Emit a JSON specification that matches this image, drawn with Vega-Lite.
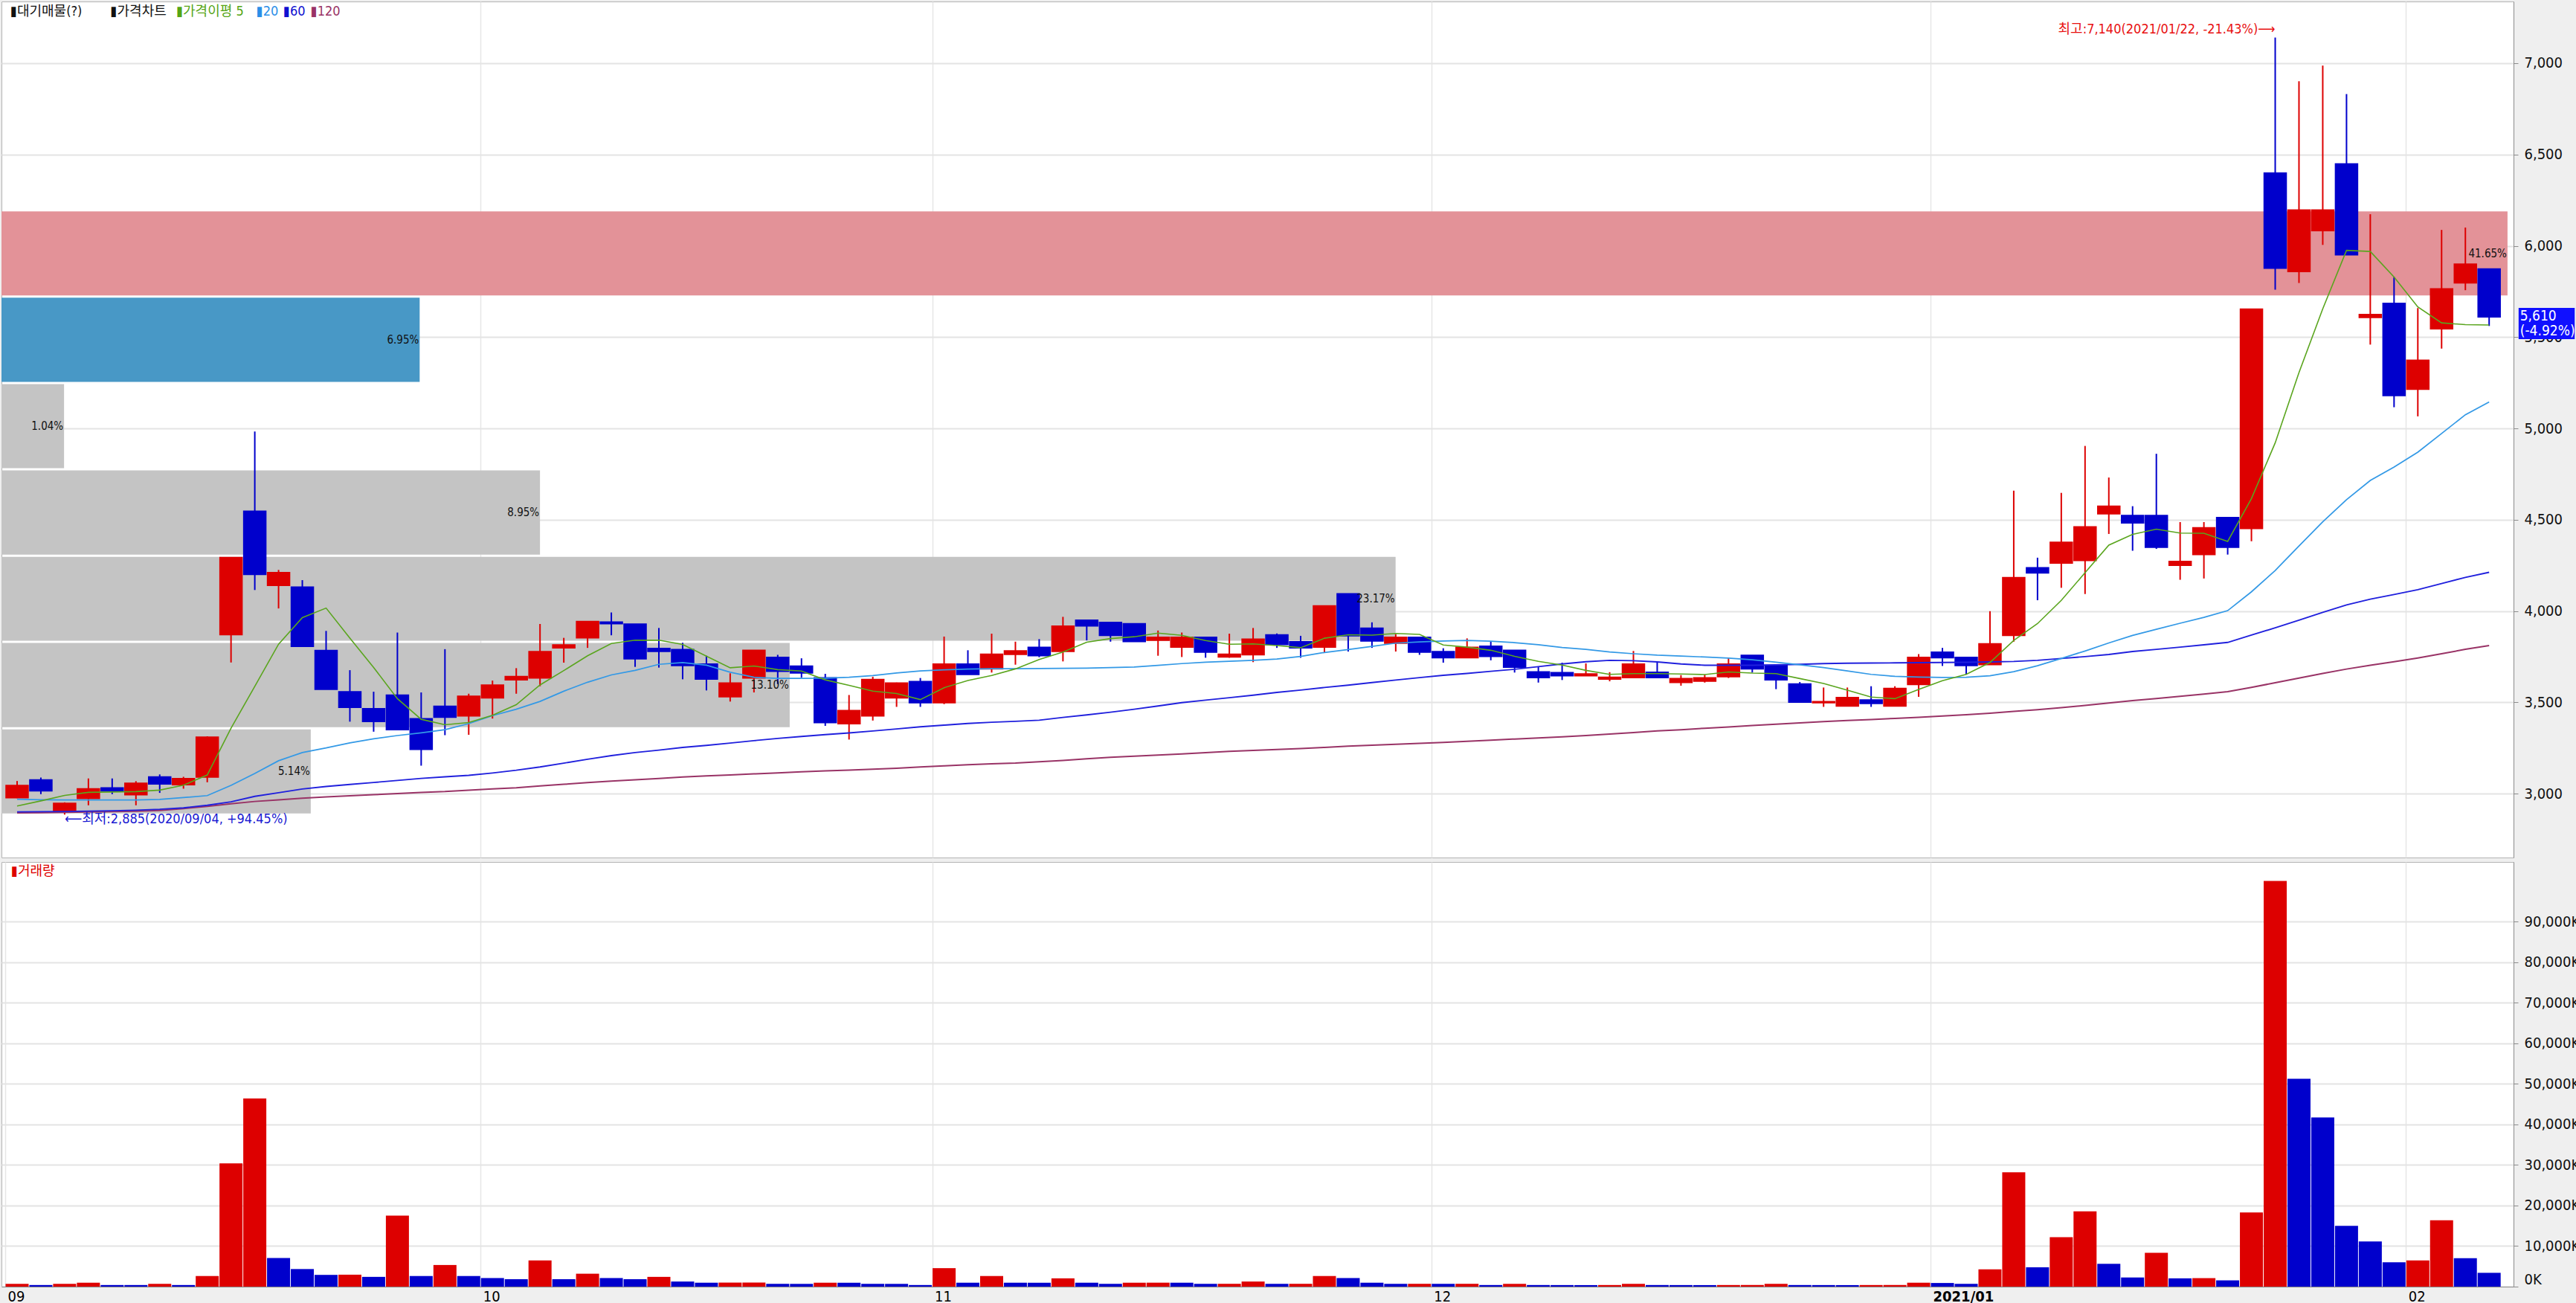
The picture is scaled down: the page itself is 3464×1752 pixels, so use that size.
{
"$schema":"https://vega.github.io/schema/vega-lite/v6.json",
"background":"#efefef",
"padding":{"left":1,"top":1,"right":0,"bottom":0},
"spacing":4,
"config":{"view":{"stroke":"#b4b4b4","strokeWidth":1,"fill":"white"},"font":"Liberation Sans Narrow, DejaVu Sans Condensed, Noto Sans CJK KR, DejaVu Sans, sans-serif"},
"datasets":{
"vp":[
{"lo":2885,"hi":3358,"pct":0.0514,"k":"g"},
{"lo":3358,"hi":3831,"pct":0.1310,"k":"g"},
{"lo":3831,"hi":4303,"pct":0.2317,"k":"g"},
{"lo":4303,"hi":4776,"pct":0.0895,"k":"g"},
{"lo":4776,"hi":5249,"pct":0.0104,"k":"g"},
{"lo":5249,"hi":5722,"pct":0.0695,"k":"cur"},
{"lo":5722,"hi":6195,"pct":0.4165,"k":"max"}
],
"p":[
{"i":0,"d":"2020-09-02","o":2977,"h":3069,"l":2975,"c":3045,"v":690,"vc":"u","m5":2932,"m20":2969,"m60":2900,"m120":2894},
{"i":1,"d":"2020-09-03","o":3076,"h":3088,"l":2997,"c":3015,"v":400,"vc":"d","m5":2960,"m20":2966,"m60":2901,"m120":2895},
{"i":2,"d":"2020-09-04","o":2902,"h":2952,"l":2885,"c":2947,"v":690,"vc":"u","m5":2990,"m20":2965,"m60":2902,"m120":2897},
{"i":3,"d":"2020-09-07","o":2973,"h":3083,"l":2936,"c":3027,"v":970,"vc":"u","m5":3007,"m20":2965,"m60":2904,"m120":2899},
{"i":4,"d":"2020-09-08","o":3032,"h":3083,"l":2997,"c":3015,"v":400,"vc":"d","m5":3009,"m20":2965,"m60":2906,"m120":2901},
{"i":5,"d":"2020-09-09","o":2993,"h":3068,"l":2936,"c":3057,"v":400,"vc":"d","m5":3011,"m20":2965,"m60":2909,"m120":2904},
{"i":6,"d":"2020-09-10","o":3092,"h":3105,"l":3004,"c":3052,"v":690,"vc":"u","m5":3019,"m20":2968,"m60":2914,"m120":2908},
{"i":7,"d":"2020-09-11","o":3048,"h":3092,"l":3027,"c":3083,"v":400,"vc":"d","m5":3046,"m20":2978,"m60":2922,"m120":2918},
{"i":8,"d":"2020-09-14","o":3090,"h":3314,"l":3062,"c":3310,"v":2620,"vc":"u","m5":3102,"m20":2989,"m60":2936,"m120":2930},
{"i":9,"d":"2020-09-15","o":3870,"h":4293,"l":3718,"c":4293,"v":30400,"vc":"u","m5":3358,"m20":3045,"m60":2955,"m120":2944},
{"i":10,"d":"2020-09-16","o":4547,"h":4983,"l":4115,"c":4200,"v":46400,"vc":"u","m5":3587,"m20":3110,"m60":2985,"m120":2957},
{"i":11,"d":"2020-09-17","o":4140,"h":4225,"l":4014,"c":4211,"v":7060,"vc":"d","m5":3818,"m20":3180,"m60":3005,"m120":2966},
{"i":12,"d":"2020-09-18","o":4132,"h":4169,"l":3806,"c":3806,"v":4340,"vc":"d","m5":3964,"m20":3225,"m60":3025,"m120":2975},
{"i":13,"d":"2020-09-21","o":3784,"h":3891,"l":3571,"c":3571,"v":2900,"vc":"d","m5":4016,"m20":3250,"m60":3039,"m120":2982},
{"i":14,"d":"2020-09-22","o":3558,"h":3676,"l":3394,"c":3472,"v":2950,"vc":"u","m5":3852,"m20":3278,"m60":3050,"m120":2988},
{"i":15,"d":"2020-09-23","o":3466,"h":3558,"l":3339,"c":3394,"v":2410,"vc":"d","m5":3691,"m20":3300,"m60":3061,"m120":2994},
{"i":16,"d":"2020-09-24","o":3540,"h":3882,"l":3350,"c":3350,"v":17500,"vc":"u","m5":3520,"m20":3318,"m60":3072,"m120":3000},
{"i":17,"d":"2020-09-25","o":3411,"h":3554,"l":3153,"c":3242,"v":2620,"vc":"d","m5":3407,"m20":3333,"m60":3083,"m120":3006},
{"i":18,"d":"2020-09-28","o":3479,"h":3791,"l":3320,"c":3418,"v":5340,"vc":"u","m5":3377,"m20":3350,"m60":3092,"m120":3011},
{"i":19,"d":"2020-09-29","o":3425,"h":3547,"l":3322,"c":3534,"v":2620,"vc":"d","m5":3389,"m20":3383,"m60":3100,"m120":3019},
{"i":20,"d":"2020-10-05","o":3524,"h":3619,"l":3411,"c":3595,"v":2120,"vc":"d","m5":3429,"m20":3427,"m60":3113,"m120":3026},
{"i":21,"d":"2020-10-06","o":3622,"h":3687,"l":3547,"c":3642,"v":1830,"vc":"d","m5":3487,"m20":3462,"m60":3128,"m120":3032},
{"i":22,"d":"2020-10-07","o":3633,"h":3929,"l":3588,"c":3778,"v":6490,"vc":"u","m5":3595,"m20":3505,"m60":3146,"m120":3042},
{"i":23,"d":"2020-10-08","o":3798,"h":3853,"l":3717,"c":3815,"v":1830,"vc":"d","m5":3674,"m20":3561,"m60":3167,"m120":3051},
{"i":24,"d":"2020-10-12","o":3853,"h":3943,"l":3798,"c":3943,"v":3190,"vc":"u","m5":3755,"m20":3610,"m60":3188,"m120":3060},
{"i":25,"d":"2020-10-13","o":3940,"h":3992,"l":3867,"c":3930,"v":2120,"vc":"d","m5":3822,"m20":3650,"m60":3208,"m120":3068},
{"i":26,"d":"2020-10-14","o":3929,"h":3929,"l":3694,"c":3737,"v":1830,"vc":"d","m5":3840,"m20":3675,"m60":3225,"m120":3076},
{"i":27,"d":"2020-10-15","o":3796,"h":3907,"l":3690,"c":3778,"v":2410,"vc":"u","m5":3840,"m20":3708,"m60":3238,"m120":3083},
{"i":28,"d":"2020-10-16","o":3789,"h":3826,"l":3626,"c":3701,"v":1260,"vc":"d","m5":3817,"m20":3718,"m60":3253,"m120":3091},
{"i":29,"d":"2020-10-19","o":3710,"h":3755,"l":3565,"c":3626,"v":970,"vc":"d","m5":3753,"m20":3703,"m60":3264,"m120":3097},
{"i":30,"d":"2020-10-20","o":3530,"h":3659,"l":3504,"c":3606,"v":1000,"vc":"u","m5":3689,"m20":3665,"m60":3277,"m120":3102},
{"i":31,"d":"2020-10-21","o":3633,"h":3785,"l":3554,"c":3785,"v":1010,"vc":"u","m5":3699,"m20":3637,"m60":3290,"m120":3108},
{"i":32,"d":"2020-10-22","o":3747,"h":3760,"l":3600,"c":3669,"v":690,"vc":"d","m5":3679,"m20":3631,"m60":3302,"m120":3113},
{"i":33,"d":"2020-10-23","o":3699,"h":3741,"l":3635,"c":3660,"v":680,"vc":"d","m5":3671,"m20":3631,"m60":3313,"m120":3119},
{"i":34,"d":"2020-10-26","o":3635,"h":3656,"l":3371,"c":3388,"v":970,"vc":"u","m5":3623,"m20":3632,"m60":3323,"m120":3124},
{"i":35,"d":"2020-10-27","o":3382,"h":3540,"l":3296,"c":3455,"v":960,"vc":"d","m5":3593,"m20":3637,"m60":3332,"m120":3129},
{"i":36,"d":"2020-10-28","o":3425,"h":3640,"l":3400,"c":3625,"v":690,"vc":"d","m5":3561,"m20":3646,"m60":3343,"m120":3134},
{"i":37,"d":"2020-10-29","o":3524,"h":3608,"l":3475,"c":3606,"v":680,"vc":"d","m5":3548,"m20":3661,"m60":3354,"m120":3139},
{"i":38,"d":"2020-10-30","o":3614,"h":3633,"l":3475,"c":3497,"v":400,"vc":"d","m5":3515,"m20":3672,"m60":3366,"m120":3146},
{"i":39,"d":"2020-11-02","o":3497,"h":3860,"l":3490,"c":3710,"v":4560,"vc":"u","m5":3580,"m20":3678,"m60":3375,"m120":3152},
{"i":40,"d":"2020-11-03","o":3710,"h":3785,"l":3652,"c":3652,"v":970,"vc":"d","m5":3619,"m20":3682,"m60":3384,"m120":3158},
{"i":41,"d":"2020-11-04","o":3683,"h":3876,"l":3663,"c":3764,"v":2620,"vc":"u","m5":3647,"m20":3684,"m60":3391,"m120":3163},
{"i":42,"d":"2020-11-05","o":3762,"h":3832,"l":3706,"c":3782,"v":970,"vc":"d","m5":3683,"m20":3684,"m60":3396,"m120":3167},
{"i":43,"d":"2020-11-06","o":3802,"h":3846,"l":3747,"c":3755,"v":960,"vc":"d","m5":3734,"m20":3685,"m60":3402,"m120":3174},
{"i":44,"d":"2020-11-09","o":3778,"h":3968,"l":3724,"c":3918,"v":2050,"vc":"u","m5":3775,"m20":3686,"m60":3417,"m120":3182},
{"i":45,"d":"2020-11-10","o":3950,"h":3950,"l":3839,"c":3918,"v":970,"vc":"d","m5":3829,"m20":3687,"m60":3431,"m120":3191},
{"i":46,"d":"2020-11-11","o":3938,"h":3938,"l":3832,"c":3866,"v":690,"vc":"d","m5":3849,"m20":3690,"m60":3446,"m120":3199},
{"i":47,"d":"2020-11-12","o":3931,"h":3931,"l":3832,"c":3832,"v":970,"vc":"u","m5":3859,"m20":3693,"m60":3462,"m120":3205},
{"i":48,"d":"2020-11-13","o":3839,"h":3893,"l":3755,"c":3857,"v":980,"vc":"u","m5":3879,"m20":3702,"m60":3480,"m120":3211},
{"i":49,"d":"2020-11-16","o":3802,"h":3882,"l":3748,"c":3857,"v":970,"vc":"d","m5":3867,"m20":3712,"m60":3498,"m120":3217},
{"i":50,"d":"2020-11-17","o":3857,"h":3857,"l":3744,"c":3774,"v":690,"vc":"d","m5":3838,"m20":3720,"m60":3512,"m120":3224},
{"i":51,"d":"2020-11-18","o":3748,"h":3876,"l":3744,"c":3764,"v":700,"vc":"u","m5":3818,"m20":3725,"m60":3525,"m120":3231},
{"i":52,"d":"2020-11-19","o":3760,"h":3907,"l":3720,"c":3846,"v":1260,"vc":"u","m5":3820,"m20":3730,"m60":3539,"m120":3237},
{"i":53,"d":"2020-11-20","o":3870,"h":3877,"l":3798,"c":3816,"v":690,"vc":"d","m5":3811,"m20":3737,"m60":3554,"m120":3242},
{"i":54,"d":"2020-11-23","o":3832,"h":3864,"l":3744,"c":3798,"v":700,"vc":"u","m5":3799,"m20":3751,"m60":3567,"m120":3247},
{"i":55,"d":"2020-11-24","o":3802,"h":4029,"l":3774,"c":4029,"v":2620,"vc":"u","m5":3851,"m20":3773,"m60":3581,"m120":3253},
{"i":56,"d":"2020-11-25","o":4095,"h":4095,"l":3778,"c":3864,"v":2120,"vc":"d","m5":3870,"m20":3789,"m60":3594,"m120":3260},
{"i":57,"d":"2020-11-26","o":3907,"h":3938,"l":3798,"c":3835,"v":970,"vc":"d","m5":3868,"m20":3806,"m60":3608,"m120":3265},
{"i":58,"d":"2020-11-27","o":3823,"h":3873,"l":3778,"c":3857,"v":690,"vc":"d","m5":3877,"m20":3824,"m60":3622,"m120":3270},
{"i":59,"d":"2020-11-30","o":3857,"h":3857,"l":3760,"c":3774,"v":700,"vc":"u","m5":3872,"m20":3831,"m60":3635,"m120":3275},
{"i":60,"d":"2020-12-01","o":3778,"h":3796,"l":3717,"c":3744,"v":690,"vc":"d","m5":3814,"m20":3836,"m60":3648,"m120":3280},
{"i":61,"d":"2020-12-02","o":3744,"h":3850,"l":3744,"c":3802,"v":700,"vc":"u","m5":3802,"m20":3839,"m60":3658,"m120":3286},
{"i":62,"d":"2020-12-03","o":3808,"h":3832,"l":3730,"c":3751,"v":400,"vc":"d","m5":3785,"m20":3835,"m60":3670,"m120":3293},
{"i":63,"d":"2020-12-04","o":3785,"h":3785,"l":3663,"c":3692,"v":690,"vc":"u","m5":3752,"m20":3827,"m60":3681,"m120":3299},
{"i":64,"d":"2020-12-07","o":3667,"h":3697,"l":3608,"c":3635,"v":400,"vc":"d","m5":3724,"m20":3815,"m60":3695,"m120":3305},
{"i":65,"d":"2020-12-08","o":3663,"h":3717,"l":3622,"c":3645,"v":390,"vc":"d","m5":3704,"m20":3800,"m60":3710,"m120":3311},
{"i":66,"d":"2020-12-09","o":3645,"h":3713,"l":3645,"c":3656,"v":380,"vc":"d","m5":3675,"m20":3790,"m60":3722,"m120":3318},
{"i":67,"d":"2020-12-10","o":3626,"h":3665,"l":3615,"c":3638,"v":400,"vc":"u","m5":3653,"m20":3776,"m60":3730,"m120":3326},
{"i":68,"d":"2020-12-11","o":3635,"h":3781,"l":3635,"c":3710,"v":690,"vc":"u","m5":3657,"m20":3766,"m60":3728,"m120":3334},
{"i":69,"d":"2020-12-14","o":3665,"h":3720,"l":3635,"c":3635,"v":400,"vc":"d","m5":3657,"m20":3758,"m60":3721,"m120":3343},
{"i":70,"d":"2020-12-15","o":3608,"h":3649,"l":3591,"c":3631,"v":390,"vc":"d","m5":3655,"m20":3753,"m60":3710,"m120":3350},
{"i":71,"d":"2020-12-16","o":3615,"h":3652,"l":3608,"c":3635,"v":380,"vc":"d","m5":3652,"m20":3748,"m60":3703,"m120":3358},
{"i":72,"d":"2020-12-17","o":3640,"h":3741,"l":3633,"c":3710,"v":400,"vc":"u","m5":3666,"m20":3742,"m60":3703,"m120":3365},
{"i":73,"d":"2020-12-18","o":3758,"h":3758,"l":3663,"c":3683,"v":410,"vc":"u","m5":3660,"m20":3733,"m60":3703,"m120":3373},
{"i":74,"d":"2020-12-21","o":3703,"h":3703,"l":3572,"c":3622,"v":690,"vc":"u","m5":3657,"m20":3720,"m60":3705,"m120":3380},
{"i":75,"d":"2020-12-22","o":3601,"h":3611,"l":3500,"c":3500,"v":400,"vc":"d","m5":3630,"m20":3705,"m60":3708,"m120":3387},
{"i":76,"d":"2020-12-23","o":3497,"h":3581,"l":3475,"c":3504,"v":390,"vc":"d","m5":3603,"m20":3690,"m60":3712,"m120":3394},
{"i":77,"d":"2020-12-24","o":3479,"h":3581,"l":3479,"c":3527,"v":380,"vc":"d","m5":3566,"m20":3672,"m60":3714,"m120":3400},
{"i":78,"d":"2020-12-28","o":3513,"h":3588,"l":3475,"c":3493,"v":400,"vc":"u","m5":3529,"m20":3653,"m60":3715,"m120":3406},
{"i":79,"d":"2020-12-29","o":3479,"h":3588,"l":3479,"c":3577,"v":410,"vc":"u","m5":3520,"m20":3642,"m60":3716,"m120":3412},
{"i":80,"d":"2020-12-30","o":3597,"h":3764,"l":3530,"c":3747,"v":970,"vc":"u","m5":3570,"m20":3638,"m60":3717,"m120":3418},
{"i":81,"d":"2021-01-04","o":3775,"h":3798,"l":3699,"c":3744,"v":900,"vc":"d","m5":3618,"m20":3636,"m60":3718,"m120":3425},
{"i":82,"d":"2021-01-05","o":3747,"h":3747,"l":3652,"c":3701,"v":690,"vc":"d","m5":3653,"m20":3637,"m60":3719,"m120":3432},
{"i":83,"d":"2021-01-06","o":3706,"h":3999,"l":3706,"c":3821,"v":4270,"vc":"u","m5":3718,"m20":3645,"m60":3721,"m120":3440},
{"i":84,"d":"2021-01-07","o":3866,"h":4659,"l":3832,"c":4183,"v":28190,"vc":"u","m5":3839,"m20":3668,"m60":3724,"m120":3450},
{"i":85,"d":"2021-01-08","o":4237,"h":4292,"l":4059,"c":4208,"v":4770,"vc":"d","m5":3931,"m20":3700,"m60":3730,"m120":3460},
{"i":86,"d":"2021-01-11","o":4262,"h":4647,"l":4127,"c":4377,"v":12220,"vc":"u","m5":4058,"m20":3740,"m60":3740,"m120":3471},
{"i":87,"d":"2021-01-12","o":4276,"h":4904,"l":4093,"c":4461,"v":18590,"vc":"u","m5":4210,"m20":3781,"m60":3750,"m120":3483},
{"i":88,"d":"2021-01-13","o":4532,"h":4731,"l":4422,"c":4574,"v":5630,"vc":"d","m5":4361,"m20":3825,"m60":3762,"m120":3496},
{"i":89,"d":"2021-01-14","o":4524,"h":4574,"l":4330,"c":4482,"v":2260,"vc":"d","m5":4420,"m20":3866,"m60":3778,"m120":3509},
{"i":90,"d":"2021-01-15","o":4524,"h":4861,"l":4340,"c":4348,"v":8350,"vc":"u","m5":4448,"m20":3900,"m60":3790,"m120":3521},
{"i":91,"d":"2021-01-18","o":4250,"h":4487,"l":4171,"c":4272,"v":2050,"vc":"d","m5":4427,"m20":3933,"m60":3802,"m120":3533},
{"i":92,"d":"2021-01-19","o":4309,"h":4487,"l":4178,"c":4456,"v":2100,"vc":"u","m5":4426,"m20":3965,"m60":3815,"m120":3545},
{"i":93,"d":"2021-01-20","o":4512,"h":4512,"l":4309,"c":4348,"v":1550,"vc":"d","m5":4381,"m20":4002,"m60":3828,"m120":3558},
{"i":94,"d":"2021-01-21","o":4451,"h":5654,"l":4382,"c":5654,"v":18300,"vc":"u","m5":4616,"m20":4105,"m60":3868,"m120":3582},
{"i":95,"d":"2021-01-22","o":6399,"h":7140,"l":5760,"c":5877,"v":100110,"vc":"u","m5":4921,"m20":4222,"m60":3908,"m120":3607},
{"i":96,"d":"2021-01-25","o":5858,"h":6901,"l":5796,"c":6197,"v":51270,"vc":"d","m5":5306,"m20":4356,"m60":3950,"m120":3633},
{"i":97,"d":"2021-01-26","o":6083,"h":6987,"l":6005,"c":6197,"v":41740,"vc":"d","m5":5655,"m20":4488,"m60":3993,"m120":3658},
{"i":98,"d":"2021-01-27","o":6449,"h":6831,"l":5950,"c":5950,"v":15010,"vc":"d","m5":5975,"m20":4610,"m60":4033,"m120":3682},
{"i":99,"d":"2021-01-28","o":5607,"h":6173,"l":5459,"c":5624,"v":11150,"vc":"d","m5":5969,"m20":4715,"m60":4065,"m120":3703},
{"i":100,"d":"2021-01-29","o":5685,"h":5830,"l":5116,"c":5179,"v":5990,"vc":"d","m5":5829,"m20":4788,"m60":4090,"m120":3722},
{"i":101,"d":"2021-02-01","o":5214,"h":5659,"l":5066,"c":5374,"v":6490,"vc":"u","m5":5665,"m20":4870,"m60":4117,"m120":3743},
{"i":102,"d":"2021-02-02","o":5545,"h":6087,"l":5437,"c":5765,"v":16380,"vc":"u","m5":5578,"m20":4972,"m60":4150,"m120":3766},
{"i":103,"d":"2021-02-03","o":5796,"h":6100,"l":5757,"c":5900,"v":7030,"vc":"d","m5":5568,"m20":5075,"m60":4184,"m120":3790},
{"i":104,"d":"2021-02-04","o":5874,"h":5874,"l":5561,"c":5610,"v":3410,"vc":"d","m5":5566,"m20":5145,"m60":4212,"m120":3811}
]
},
"resolve":{"scale":{"x":"independent","y":"independent","color":"independent"}},
"vconcat":[
{
"width":3378,"height":1151,
"resolve":{"scale":{"x":"independent","color":"independent"}},
"layer":[
{
"data":{"name":"vp"},
"mark":{"type":"rect","yOffset":-1.5,"y2Offset":1.5},
"encoding":{
"x":{"field":"pct","type":"quantitative","scale":{"domain":[0,0.4175],"nice":false,"zero":false},"axis":null,"title":null},
"x2":{"datum":0},
"y":{"field":"lo","type":"quantitative","title":null,"scale":{"domain":[2650,7338],"nice":false,"zero":false},
"axis":{"orient":"right","values":[3000,3500,4000,4500,5000,5500,6000,6500,7000],"labelExpr":"format(datum.value, ',.0f')","grid":true,"gridColor":"#e4e4e4","gridWidth":2,"domain":true,"domainColor":"#8c8c8c","ticks":true,"tickSize":6,"tickColor":"#8c8c8c","labelFontSize":20,"labelPadding":8,"labelColor":"#111111","labelAlign":"left","labelBaseline":"middle","labelFlush":false,"labelOverlap":false,"title":null}},
"y2":{"field":"hi"},
"color":{"field":"k","type":"nominal","scale":{"domain":["g","cur","max"],"range":["#c4c4c4","#4898c6","#e39298"]},"legend":null}
}
},
{
"data":{"name":"p"},
"layer":[
{"mark":{"type":"rule","strokeWidth":2},
"encoding":{
"x":{"field":"i","type":"quantitative","title":null,"scale":{"domain":[-0.5,104.87],"nice":false,"zero":false},
"axis":{"orient":"bottom","values":[19.5,38.5,59.5,80.5,100.5],"grid":true,"gridColor":"#e6e6e6","gridWidth":1.5,"labels":false,"ticks":false,"domain":false,"title":null}},
"y":{"field":"l","type":"quantitative","title":null},
"y2":{"field":"h"},
"color":{"condition":{"test":"datum.c >= datum.o","value":"#dd0000"},"value":"#0000cc"}
}},
{"mark":{"type":"bar","width":30,"strokeWidth":1.5},
"encoding":{
"x":{"field":"i","type":"quantitative","title":null},
"y":{"field":"o","type":"quantitative","title":null},
"y2":{"field":"c"},
"fill":{"condition":{"test":"datum.c >= datum.o","value":"#dd0000"},"value":"#0000cc"},
"stroke":{"condition":{"test":"datum.c >= datum.o","value":"#dd0000"},"value":"#0000cc"}
}},
{"transform":[{"fold":["m120","m60","m20","m5"],"as":["ma","val"]}],
"mark":{"type":"line","interpolate":"linear"},
"encoding":{
"x":{"field":"i","type":"quantitative","title":null},
"y":{"field":"val","type":"quantitative","title":null},
"color":{"field":"ma","type":"nominal","scale":{"domain":["m5","m20","m60","m120"],"range":["#5aa51e","#3399e6","#2020dd","#993366"]},"legend":null},
"strokeWidth":{"field":"ma","type":"ordinal","scale":{"domain":["m5","m20","m60","m120"],"range":[1.6,2,2.4,2.4]},"legend":null}
}},
{"data":{"values":[{}]},
"mark":{"type":"text","text":"최고:7,140(2021/01/22, -21.43%)⟶","align":"right","baseline":"middle","dy":-11,"fontSize":18,"color":"#e81010"},
"encoding":{"x":{"datum":95,"type":"quantitative"},"y":{"datum":7140,"type":"quantitative"}}},
{"data":{"values":[{}]},
"mark":{"type":"text","text":"⟵최저:2,885(2020/09/04, +94.45%)","align":"left","baseline":"middle","dy":7,"fontSize":18,"color":"#1a1ad2"},
"encoding":{"x":{"datum":2,"type":"quantitative"},"y":{"datum":2885,"type":"quantitative"}}},
{"data":{"values":[{}]},
"mark":{"type":"rect","fill":"#1010ff"},
"encoding":{"x":{"datum":105.24,"type":"quantitative"},"x2":{"datum":107.6},"y":{"datum":5660,"type":"quantitative"},"y2":{"datum":5489}}},
{"data":{"values":[{}]},
"mark":{"type":"text","text":"5,610","align":"left","baseline":"middle","fontSize":19,"color":"#ffffff"},
"encoding":{"x":{"datum":105.3,"type":"quantitative"},"y":{"datum":5617,"type":"quantitative"}}},
{"data":{"values":[{}]},
"mark":{"type":"text","text":"(-4.92%)","align":"left","baseline":"middle","fontSize":19,"color":"#ffffff"},
"encoding":{"x":{"datum":105.3,"type":"quantitative"},"y":{"datum":5533,"type":"quantitative"}}},
{"data":{"values":[{}]},
"mark":{"type":"text","text":"▮대기매물(?)","align":"left","baseline":"middle","fontSize":18,"color":"#111111"},
"encoding":{"x":{"datum":-0.28,"type":"quantitative"},"y":{"datum":7283,"type":"quantitative"}}},
{"data":{"values":[{}]},
"mark":{"type":"text","text":"▮가격차트","align":"left","baseline":"middle","fontSize":18,"color":"#111111"},
"encoding":{"x":{"datum":3.93,"type":"quantitative"},"y":{"datum":7283,"type":"quantitative"}}},
{"data":{"values":[{}]},
"mark":{"type":"text","text":"▮가격이평 5","align":"left","baseline":"middle","fontSize":18,"color":"#55a514"},
"encoding":{"x":{"datum":6.7,"type":"quantitative"},"y":{"datum":7283,"type":"quantitative"}}},
{"data":{"values":[{}]},
"mark":{"type":"text","text":"▮20","align":"left","baseline":"middle","fontSize":18,"color":"#2a8fe8"},
"encoding":{"x":{"datum":10.07,"type":"quantitative"},"y":{"datum":7283,"type":"quantitative"}}},
{"data":{"values":[{}]},
"mark":{"type":"text","text":"▮60","align":"left","baseline":"middle","fontSize":18,"color":"#1010d0"},
"encoding":{"x":{"datum":11.2,"type":"quantitative"},"y":{"datum":7283,"type":"quantitative"}}},
{"data":{"values":[{}]},
"mark":{"type":"text","text":"▮120","align":"left","baseline":"middle","fontSize":18,"color":"#993366"},
"encoding":{"x":{"datum":12.35,"type":"quantitative"},"y":{"datum":7283,"type":"quantitative"}}}
]
},
{
"data":{"name":"vp"},
"transform":[{"calculate":"(datum.lo + datum.hi) / 2","as":"mid"}],
"mark":{"type":"text","align":"right","baseline":"middle","dx":-1,"fontSize":15,"color":"#111111"},
"encoding":{
"x":{"field":"pct","type":"quantitative","title":null,"scale":{"domain":[0,0.4175],"nice":false,"zero":false},"axis":null},
"y":{"field":"mid","type":"quantitative","title":null},
"text":{"field":"pct","type":"quantitative","format":".2%"}
}
}
]
},
{
"width":3378,"height":571,
"layer":[
{"data":{"name":"p"},
"mark":{"type":"bar","width":31},
"encoding":{
"x":{"field":"i","type":"quantitative","title":null,"scale":{"domain":[-0.5,104.87],"nice":false,"zero":false},
"axis":{"orient":"bottom","values":[-0.5,19.5,38.5,59.5,80.5,100.5],"labelExpr":"datum.value < 0 ? '09' : datum.value < 20 ? '10' : datum.value < 39 ? '11' : datum.value < 60 ? '12' : datum.value < 81 ? '2021/01' : '02'","labelAlign":"left","labelBaseline":"top","labelPadding":3,"labelOffset":3,"labelFontSize":20,"labelColor":"#000000","labelFontWeight":{"condition":{"test":"datum.value == 80.5","value":"bold"},"value":"normal"},"labelFlush":false,"labelOverlap":false,"grid":true,"gridColor":"#e6e6e6","gridWidth":1.5,"ticks":false,"domain":true,"domainColor":"#8c8c8c","title":null}},
"y":{"field":"v","type":"quantitative","title":null,"scale":{"domain":[0,104770],"nice":false},
"axis":{"orient":"right","values":[0,10000,20000,30000,40000,50000,60000,70000,80000,90000],"labelExpr":"format(datum.value, ',') + 'K'","grid":true,"gridColor":"#e4e4e4","gridWidth":2,"domainColor":"#8c8c8c","tickColor":"#8c8c8c","tickSize":6,"labelPadding":8,"labelFontSize":20,"labelColor":"#111111","labelFlush":true,"title":null}},
"fill":{"condition":{"test":"datum.vc == 'u'","value":"#dd0000"},"value":"#0000cc"}
}},
{"data":{"values":[{}]},
"mark":{"type":"text","text":"▮거래량","align":"left","baseline":"middle","fontSize":18,"color":"#dd0000"},
"encoding":{"x":{"datum":-0.25,"type":"quantitative"},"y":{"datum":102400,"type":"quantitative"}}}
]
}
]
}
